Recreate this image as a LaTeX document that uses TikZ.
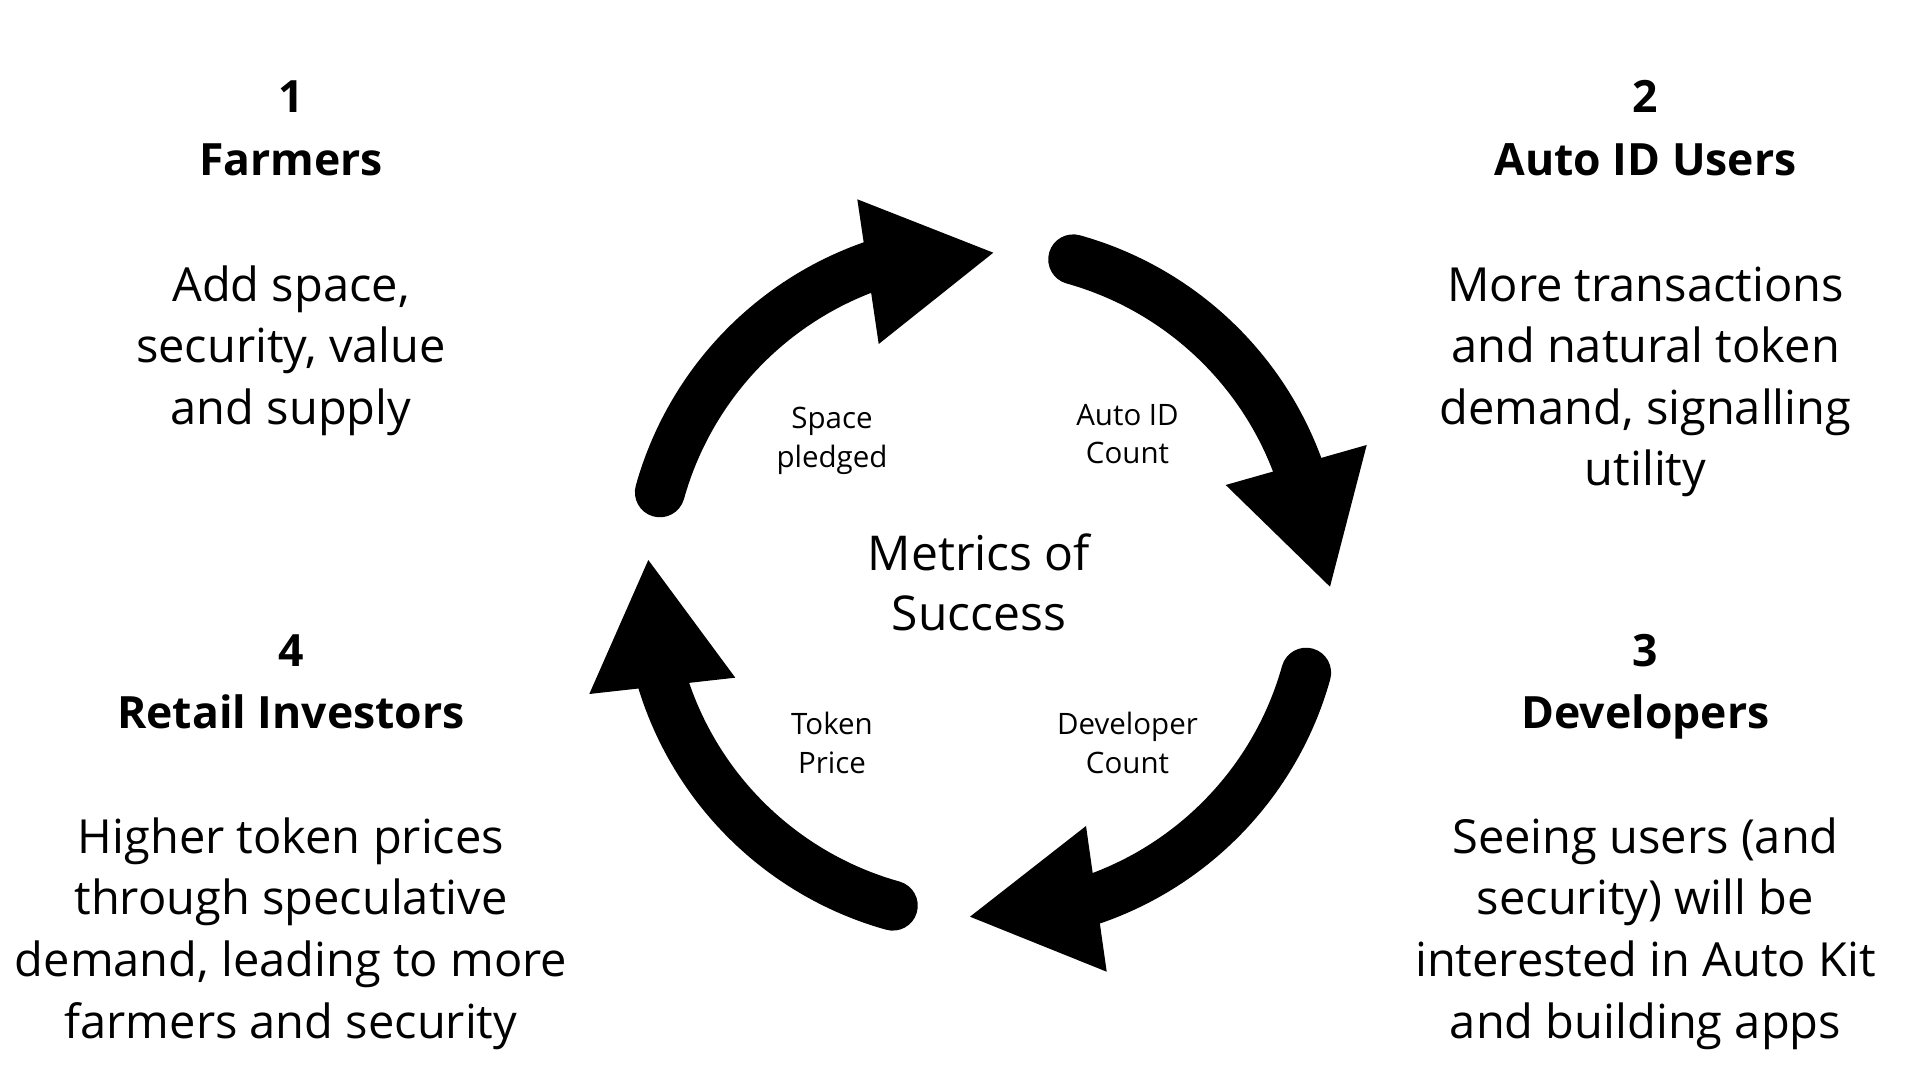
\documentclass[tikz,border=0pt]{standalone}
\usepackage{fontspec}
\setmainfont{Open Sans}
\usepackage{tikz}

\begin{document}
\begin{tikzpicture}[
            x = 1pt, y = 1pt, % one unit per pixel
        ]

        \tikzstyle{num}=[font=\bfseries\fontsize{44.5}{62}\selectfont, anchor=base]
        \tikzstyle{heading}=[font=\bfseries\fontsize{44.5}{62}\selectfont, anchor=base]
        \tikzstyle{desc}=[font=\fontsize{47}{61.6}\selectfont, align=center, anchor=base]
        \tikzstyle{metric}=[font=\fontsize{29.5}{38.8}\selectfont, align=center, anchor=base]
        \tikzstyle{cyclearrow}=[line width=50pt, line cap=round]

  \useasboundingbox (0,0) rectangle (1920,1080);
  \fill[white] (0,0) rectangle (1920,1080);

  % shafts of the four arrows of the cycle
  \begin{scope}[shift={(983,497.5)}]
    \foreach \r in {0,-90,-180,-270}
      \draw[cyclearrow, rotate=\r] (164.4:335.5) arc[start angle=164.4, end angle=104, radius=335.5];
  \end{scope}

  % heads
  \fill (857.3,880.7) -- (993.3,827.3) -- (878.7,736) -- cycle;
  \fill (1366.7,635) -- (1330,493.3) -- (1225.7,595) -- cycle;
  \fill (1106.7,108.3) -- (970,163.3) -- (1086,254) -- cycle;
  \fill (589.3,386) -- (648.3,520) -- (735.3,402.3) -- cycle;

  % last line sits on the given base
  \node[metric] (m1) at (832,612.7) {Space\\pledged};
  \node[metric] (m2) at (1127.5,616) {Auto ID\\Count};
  \node[metric] (m3) at (1127.5,306.5) {Developer\\Count};
  \node[metric] (m4) at (832,306.5) {Token\\Price};
  \node[desc, font=\fontsize{48}{60.5}\selectfont] (mc) at (979,449) {Metrics of\\Success};

  \node[num] (n1) at (291,967.3) {1};
  \node[heading] (h1) at (291,904.3) {Farmers};
  \node[desc] (d1) at (291,655.5) {Add space,\\security, value\\and supply};

  \node[num] (n2) at (1645.5,967.3) {2};
  \node[heading] (h2) at (1645.5,904.3) {Auto ID Users};
  \node[desc] (d2) at (1645.5,594) {More transactions\\and natural token\\demand, signalling\\utility};

  \node[num] (n3) at (1645.5,413.3) {3};
  \node[heading] (h3) at (1645.5,351) {Developers};
  \node[desc] (d3) at (1645.5,42) {Seeing users (and\\security) will be\\interested in Auto Kit\\and building apps};

  \node[num] (n4) at (291,413.3) {4};
  \node[heading] (h4) at (291,351) {Retail Investors};
  \node[desc] (d4) at (291,42) {Higher token prices\\through speculative\\demand, leading to more\\farmers and security};

\end{tikzpicture}
\end{document}
